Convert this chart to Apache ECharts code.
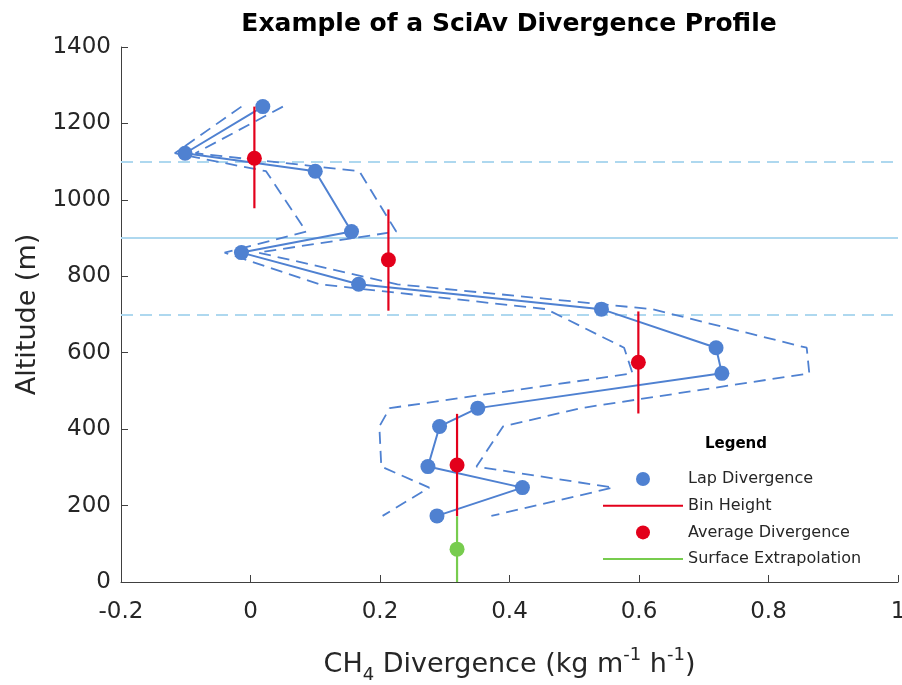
<!DOCTYPE html>
<html><head><meta charset="utf-8">
<script src="https://cdn.jsdelivr.net/npm/echarts@6.0.0/dist/echarts.min.js"></script>
<style>html,body{margin:0;padding:0;background:#fff;overflow:hidden}#c{width:902px;height:685px}</style>
</head><body><div id="c"></div>
<script>
// Lap divergence profile (altitude in m, divergence in kg m-1 h-1)
const lapAlt  = [1244, 1122, 1075, 917, 862, 779, 714, 613, 546, 455, 407, 302, 247, 173];
const lapX    = [0.019, -0.101, 0.100, 0.156, -0.014, 0.167, 0.542, 0.719, 0.728, 0.351, 0.292, 0.274, 0.420, 0.288];
const lapLow  = [-0.014, -0.117, 0.024, 0.086, -0.040, 0.107, 0.457, 0.577, 0.590, 0.215, 0.199, 0.202, 0.276, 0.204];
const lapHigh = [0.050, -0.085, 0.168, 0.225, 0.012, 0.227, 0.620, 0.859, 0.863, 0.510, 0.390, 0.349, 0.560, 0.372];
// Bin averages
const avgX      = [0.006, 0.213, 0.599, 0.319];
const avgAlt    = [1109, 843, 575, 306];
const binBottom = [978, 710, 441, 172];
const binTop    = [1244, 975, 708, 440];
// Surface extrapolation
const surfX = [0.319];
const surfAlt = [86];
const surfBottom = [0];
const surfTop = [172];
// Bin boundaries
const refAlt = [1100, 900, 700];
const refDashed = [true, false, true];
// Axis ticks
const xTicks = [-0.2, 0, 0.2, 0.4, 0.6, 0.8, 1];
const yTicks = [0, 200, 400, 600, 800, 1000, 1200, 1400];

const FONT = 'DejaVu Sans';
const BLUE = '#4F81D1', RED = '#E3001B', GREEN = '#77CC4E', LIGHT = '#AED8EF', INK = '#262626';
const zip = (xs, ys) => xs.map((x, i) => [x, ys[i]]);
const LINE_ICON = 'path://M0,0L80,0L80,2L0,2Z';

const series = [
  { type: 'line', name: 'Lower', data: zip(lapLow, lapAlt), symbol: 'none', z: 2,
    lineStyle: { color: BLUE, width: 1.8, type: [12, 7] },
    markLine: { silent: true, symbol: 'none', label: { show: false }, z: 1,
      data: refAlt.map((a, i) => ({ yAxis: a, lineStyle: { color: LIGHT, width: 1.8, type: refDashed[i] ? [12, 7] : 'solid' } })) } },
  { type: 'line', name: 'Upper', data: zip(lapHigh, lapAlt), symbol: 'none', z: 2,
    lineStyle: { color: BLUE, width: 1.8, type: [12, 7] } },
  { type: 'line', name: 'Lap Divergence', data: zip(lapX, lapAlt), symbol: 'circle', symbolSize: 15, z: 3,
    lineStyle: { color: BLUE, width: 2 }, itemStyle: { color: BLUE } },
  ...avgX.map((x, i) => ({ type: 'line', name: 'Bin Height', data: [[x, binBottom[i]], [x, binTop[i]]],
    symbol: 'none', z: 4, lineStyle: { color: RED, width: 2.2 }, itemStyle: { color: RED } })),
  ...surfX.map((x, i) => ({ type: 'line', name: 'Surface Extrapolation', data: [[x, surfBottom[i]], [x, surfTop[i]]],
    symbol: 'none', z: 4, lineStyle: { color: GREEN, width: 2.2 }, itemStyle: { color: GREEN } })),
  { type: 'scatter', name: 'Average Divergence', data: zip(avgX, avgAlt), symbolSize: 15, z: 5, itemStyle: { color: RED, opacity: 1 } },
  { type: 'scatter', name: 'Surface Point', data: zip(surfX, surfAlt), symbolSize: 15, z: 5, itemStyle: { color: GREEN, opacity: 1 } }
];

const option = {
  animation: false,
  backgroundColor: '#fff',
  title: [
    { text: 'Example of a SciAv Divergence Profile', left: 509, top: 12, padding: 0, textAlign: 'center',
      textStyle: { fontFamily: FONT, fontSize: 25, fontWeight: 'bold', color: '#000' } },
    { text: 'Legend', left: 736, top: 437, padding: 0, textAlign: 'center',
      textStyle: { fontFamily: FONT, fontSize: 15, fontWeight: 'bold', color: '#000' } }
  ],
  legend: {
    orient: 'vertical', left: 603, top: 471, itemWidth: 80, itemHeight: 14, itemGap: 10.7,
    selectedMode: false, padding: 0,
    textStyle: { fontFamily: FONT, fontSize: 16, color: INK },
    data: [
      { name: 'Lap Divergence', icon: 'circle' },
      { name: 'Bin Height', icon: LINE_ICON, itemStyle: { color: RED } },
      { name: 'Average Divergence', icon: 'circle' },
      { name: 'Surface Extrapolation', icon: LINE_ICON, itemStyle: { color: GREEN } }
    ]
  },
  grid: { left: 121, right: 4, top: 47, bottom: 103, containLabel: false, outerBoundsMode: 'none' },
  xAxis: {
    type: 'value', min: xTicks[0], max: xTicks[xTicks.length - 1], interval: 0.2,
    axisLine: { onZero: false, lineStyle: { color: '#404040', width: 1 } },
    axisTick: { inside: true, length: 7, lineStyle: { color: '#404040' } },
    splitLine: { show: false },
    axisLabel: { fontFamily: FONT, fontSize: 23, color: INK, margin: 19,
      formatter: v => String(Math.round(v * 10) / 10) },
    name: 'CH{sub|4} Divergence (kg m{sup|-1} h{sup|-1})', nameLocation: 'middle', nameGap: 64,
    nameTextStyle: { fontFamily: FONT, fontSize: 27, color: INK, lineHeight: 38,
      rich: {
        sub: { fontFamily: FONT, fontSize: 18, color: INK, lineHeight: 16, verticalAlign: 'bottom' },
        sup: { fontFamily: FONT, fontSize: 18, color: INK, lineHeight: 18, verticalAlign: 'top' }
      } }
  },
  yAxis: {
    type: 'value', min: yTicks[0], max: yTicks[yTicks.length - 1], interval: 200,
    axisLine: { show: true, onZero: false, lineStyle: { color: '#404040', width: 1 } },
    axisTick: { show: true, inside: true, length: 7, lineStyle: { color: '#404040' } },
    splitLine: { show: false },
    axisLabel: { fontFamily: FONT, fontSize: 23, color: INK, margin: 10, formatter: v => String(v) },
    name: 'Altitude (m)', nameLocation: 'middle', nameGap: 78,
    nameTextStyle: { fontFamily: FONT, fontSize: 27, color: INK }
  },
  series
};
const chart = echarts.init(document.getElementById('c'), null, { renderer: 'canvas' });
chart.setOption(option);
</script>
</body></html>
